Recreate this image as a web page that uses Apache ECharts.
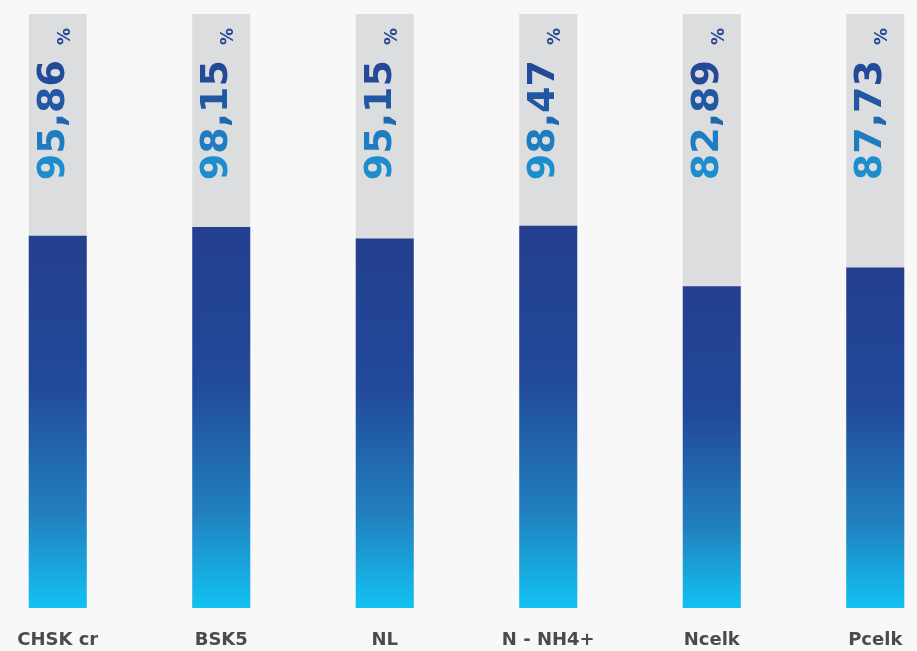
<!DOCTYPE html>
<html>
<head>
<meta charset="utf-8">
<script src="https://cdn.jsdelivr.net/npm/echarts@6/dist/echarts.min.js"></script>
<style>
html,body{margin:0;padding:0;background:#f8f8f9;overflow:hidden;width:917px;height:651px;}
#c{width:981px;height:651px;position:absolute;left:-24px;top:0;}
</style>
</head>
<body>
<div id="c"></div>
<script>
const categories = ['CHSK cr', 'BSK5', 'NL', 'N - NH4+', 'Ncelk', 'Pcelk'];
const values = [95.86, 98.15, 95.15, 98.47, 82.89, 87.73];
const valueLabels = ['95,86', '98,15', '95,15', '98,47', '82,89', '87,73'];
const Y_MAX = 153;

// per-character colours to imitate the gradient fill of the value text
const charColors = ['#1d8dce', '#1f7cc0', '#2068b0', '#2258a3', '#234a98'];

const rich = {
  p: {
    fontFamily: 'DejaVu Sans',
    fontWeight: 'bold',
    fontSize: 17,
    lineHeight: 20,
    verticalAlign: 'bottom',
    padding: [0, 0, 0, 15],
    color: '#234896'
  }
};
charColors.forEach((c, i) => {
  rich['c' + i] = {
    fontFamily: 'DejaVu Sans',
    fontWeight: 'bold',
    fontSize: 38,
    lineHeight: 40,
    color: c
  };
});

const chart = echarts.init(document.getElementById('c'));
const trackData = categories.map(() => Y_MAX);

chart.setOption({
  backgroundColor: '#f8f8f9',
  animation: false,
  grid: { left: 0, right: 0, top: 14, bottom: 43, containLabel: false },
  xAxis: {
    type: 'category',
    data: categories,
    axisLine: { show: false },
    axisTick: { show: false },
    axisLabel: {
      margin: 23,
      color: '#4b4b4b',
      fontFamily: 'DejaVu Sans',
      fontWeight: 'bold',
      fontSize: 18
    }
  },
  yAxis: { type: 'value', min: 0, max: Y_MAX, show: false, splitLine: { show: false } },
  series: [
    {
      type: 'bar',
      data: trackData,
      barWidth: 58,
      itemStyle: { color: '#dcdddf' },
      silent: true,
      label: {
        show: true,
        position: 'insideTop',
        distance: 11,
        rotate: 90,
        align: 'right',
        verticalAlign: 'middle',
        offset: [-3, -4],
        formatter: p => {
          const s = valueLabels[p.dataIndex];
          return s.split('').map((ch, i) => '{c' + Math.min(i, charColors.length - 1) + '|' + ch + '}').join('') + '{p|%}';
        },
        rich: rich
      }
    },
    {
      type: 'bar',
      data: values,
      barWidth: 58,
      barGap: '-100%',
      itemStyle: {
        color: new echarts.graphic.LinearGradient(0, 0, 0, 1, [
          { offset: 0, color: '#243f8f' },
          { offset: 0.4, color: '#22499a' },
          { offset: 0.75, color: '#2180bf' },
          { offset: 1, color: '#12c2f2' }
        ])
      }
    }
  ]
});
</script>
</body>
</html>
